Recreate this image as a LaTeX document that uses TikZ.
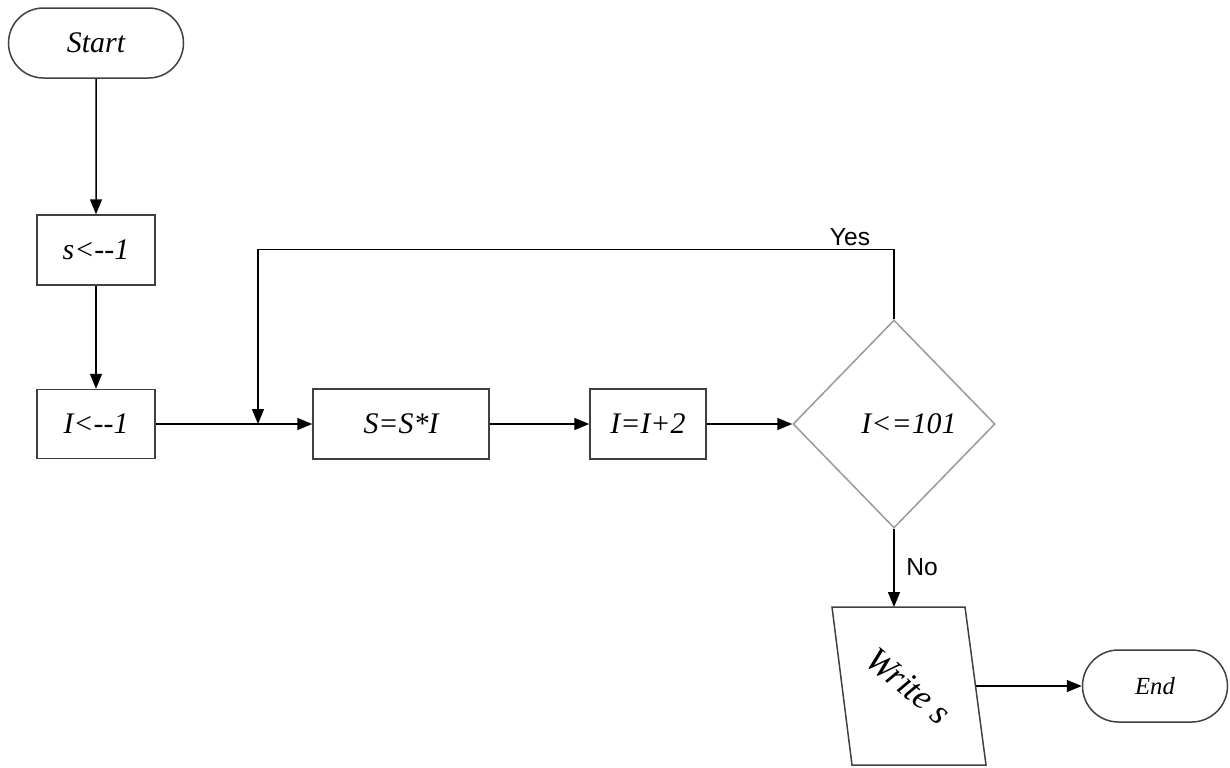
\documentclass[tikz,border=0pt]{standalone}
\usepackage{fontspec}
\setmainfont{Liberation Serif}
\newfontfamily\answerfont{Liberation Sans}
\usetikzlibrary{arrows.meta,shapes.geometric,shapes.misc}

\begin{document}
\begin{tikzpicture}[x=0.2mm, y=-0.2mm, line width=0.3mm,
	box/.style={draw=black!75, font=\fontsize{17}{20}\selectfont\itshape, inner sep=0pt},
	terminal/.style={box, rounded rectangle},
	flow/.style={-{Triangle[length=3mm, width=2.4mm]}},
	answer/.style={font=\answerfont\fontsize{14}{16}\selectfont}]
			%%%%% START %%%%%
			
			\useasboundingbox (0, 0) rectangle (1230, 767);
			
			\node[terminal, minimum width=35mm, minimum height=14mm] (start) at (96, 43) {Start};
			\node[box, minimum width=23.6mm, minimum height=14mm] (sinit) at (96, 250) {s<-{}-1};
			\node[box, minimum width=23.6mm, minimum height=13.8mm] (iinit) at (96, 424) {I<-{}-1};
			\node[box, minimum width=35.2mm, minimum height=14mm] (prod) at (401, 424) {S=S*I};
			\node[box, minimum width=23.2mm, minimum height=14mm] (incr) at (648, 424) {I=I+2};
			\node[box, draw=black!40, diamond, aspect=1, minimum width=40.4mm, minimum height=41.6mm] (test) at (894, 424) {\hspace{6mm}I<=101};
			
			% output box
			\draw[draw=black!75] (832, 607) coordinate (writetl) -- (965, 607) -- (986, 765) -- (852, 765) -- cycle;
			\coordinate (writein) at (898, 607);
			\coordinate (writeout) at (975.5, 686);
			\node[font=\fontsize{20}{24}\selectfont\itshape, rotate=-40] (write) at (909, 686) {Write s};
			
			\node[terminal, font=\fontsize{14}{16}\selectfont\itshape, minimum width=29mm, minimum height=14.4mm] (end) at (1155, 686) {End};
			
			\coordinate (join) at (258, 424);
			
			\draw[flow] (start) -- (sinit);
			\draw[flow] (sinit) -- (iinit);
			\draw[flow] (iinit) -- (prod);
			\draw[flow] (prod) -- (incr);
			\draw[flow] (incr) -- (test);
			\draw[flow] (test.north) -- ++(0, -70) -| (join);
			\draw[flow] (test.south) -- (test.south |- writein);
			\draw[flow] (writeout) -- (end);
			
			\node[answer] (yes) at (850, 237) {Yes};
			\node[answer] (no) at (922, 567) {No};
			
			%%%%% END %%%%%
\end{tikzpicture}
\end{document}
